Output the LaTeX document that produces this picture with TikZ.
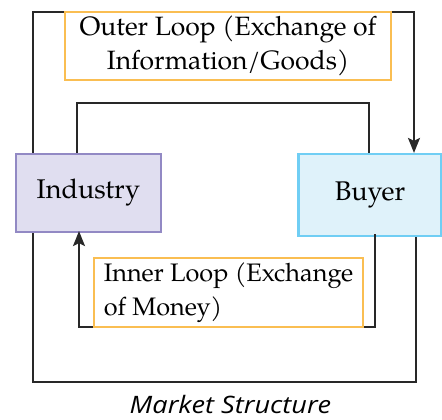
\documentclass[tikz,border=0pt]{standalone}
\usepackage{fontspec}
\setmainfont{TeX Gyre Pagella}
\newfontfamily\capfont{Open Sans}
\usetikzlibrary{arrows.meta}

\definecolor{flowline}{RGB}{40,40,40}
\definecolor{loopedge}{RGB}{250,190,82}
\definecolor{indedge}{RGB}{146,137,196}
\definecolor{indfill}{RGB}{224,222,240}
\definecolor{buyedge}{RGB}{112,206,244}
\definecolor{buyfill}{RGB}{223,242,250}

\tikzset{
  flow/.style={draw=flowline, line width=1.7pt},
  tip/.style={-{Stealth[length=15pt,width=12pt,inset=3pt]}},
  party/.style={rectangle, line width=2.2pt, font=\fontsize{27}{32}\selectfont},
  loopbox/.style={rectangle, draw=loopedge, line width=1.8pt, inner sep=0pt}
}

\begin{document}
\begin{tikzpicture}[x=1pt, y=-1pt]
\useasboundingbox (0,0) rectangle (442,420);

% the two trading parties
\node[party, draw=indedge, fill=indfill, minimum width=145pt, minimum height=78pt] (ind) at (88.5,193) {Industry};
\node[party, draw=buyedge, fill=buyfill, minimum width=143pt, minimum height=82pt] (buy) at (370,195) {Buyer};

% corner points of the loops
\coordinate (otl) at (33,12);
\coordinate (otr) at (414,12);
\coordinate (itl) at (77,103);
\coordinate (itr) at (369,103);
\coordinate (obl) at (33,382);
\coordinate (obr) at (416,382);
\coordinate (ibl) at (79,327);
\coordinate (ibr) at (375,327);

% outer loop: goods and information
\draw[flow, tip] (ind.north -| otl) -- (otl) -- (otr) -- (buy.north -| otr);
\draw[flow] (buy.south -| obr) -- (obr) -- (obl) -- (ind.south -| obl);

% inner loop: money
\draw[flow] (ind.north -| itl) -- (itl) -- (itr) -- (buy.north -| itr);
\draw[flow, tip] ([yshift=3pt]buy.south -| ibr) -- (ibr) -- (ibl) -- ([yshift=2pt]ind.south -| ibl);

% loop labels
\node[loopbox, minimum width=326pt, minimum height=68pt, align=center,
      font=\fontsize{26.5}{34}\selectfont] (outer) at (228,46)
  {Outer Loop (Exchange of\\Information/Goods)};
\node[loopbox, minimum width=269pt, minimum height=69pt, align=left,
      font=\fontsize{25.3}{34}\selectfont] (inner) at (228.5,292.5)
  {Inner Loop (Exchange\\of Money)};

% caption
\node[font=\capfont\itshape\fontsize{24}{28}\selectfont, anchor=base, inner sep=0pt, xscale=1.13] (cap) at (230.5,413) {Market Structure};
\end{tikzpicture}
\end{document}
